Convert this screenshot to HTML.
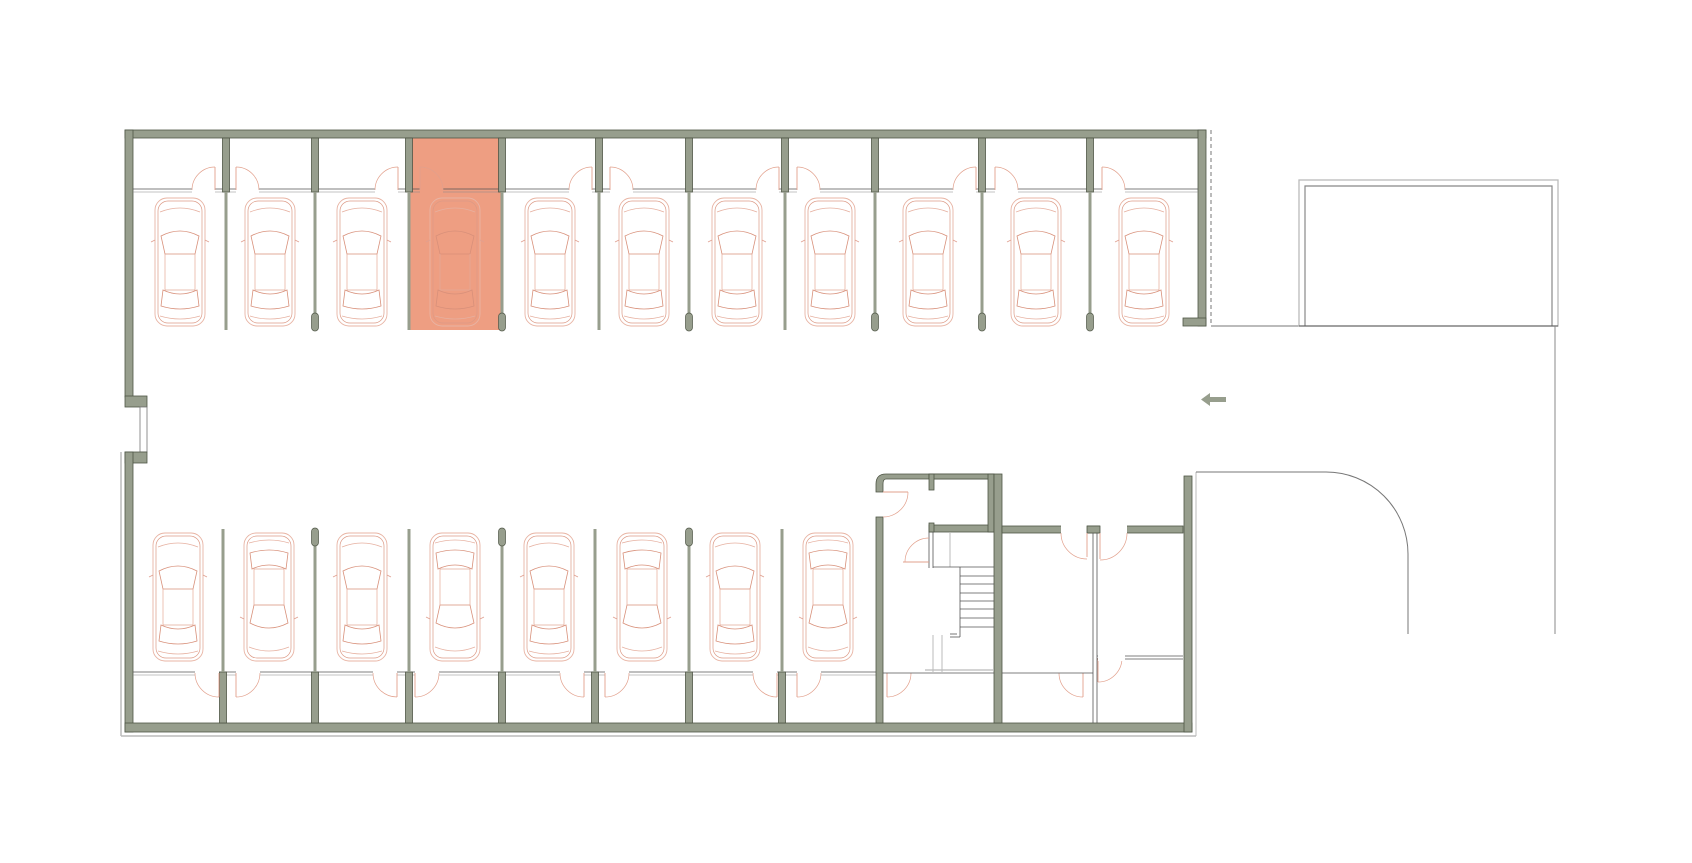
<!DOCTYPE html>
<html><head><meta charset="utf-8"><style>
html,body{margin:0;padding:0;background:#fff;width:1692px;height:863px;overflow:hidden}
svg{display:block}
</style></head><body>
<svg id="s" width="1692" height="863" viewBox="0 0 1692 863" xmlns="http://www.w3.org/2000/svg">
<defs>
<g id="car">
 <rect x="-25" y="-64" width="50" height="128" rx="12" fill="none" stroke="#e8b4a4" stroke-width="0.9"/>
 <rect x="-22" y="-61" width="44" height="122" rx="10" fill="none" stroke="#dc9a86" stroke-width="0.7"/>
 <path d="M-19,-26 Q0,-36 19,-26 L15,-8 L-15,-8 Z" fill="none" stroke="#d8907a" stroke-width="0.8"/>
 <path d="M-15,-8 L-15,28 L15,28 L15,-8" fill="none" stroke="#e4aa98" stroke-width="0.7"/>
 <path d="M-17,28 Q0,36 17,28 L19,44 Q0,50 -19,44 Z" fill="none" stroke="#d8907a" stroke-width="0.8"/>
 <path d="M-25,-22 l-4,2 M25,-22 l4,2" stroke="#e0a090" stroke-width="0.8"/>
 <path d="M-20,-50 Q0,-58 20,-50 M-20,54 Q0,60 20,54" fill="none" stroke="#e6b0a0" stroke-width="0.7"/>
</g>
</defs>
<g id="g"></g>
</svg>
<script>
var W='#979e8d',D='#4f5646',R='#e2a08c';
var h='';
function r(x,y,w,hh,f,s){h+='<rect x="'+x+'" y="'+y+'" width="'+w+'" height="'+hh+'" fill="'+(f||W)+'" stroke="'+(s||D)+'" stroke-width="0.8"/>';}
function l(x1,y1,x2,y2,c,w,da){h+='<line x1="'+x1+'" y1="'+y1+'" x2="'+x2+'" y2="'+y2+'" stroke="'+(c||'#555')+'" stroke-width="'+(w||1)+'"'+(da?' stroke-dasharray="'+da+'"':'')+'/>';}
function p(d,c,w,f){h+='<path d="'+d+'" fill="'+(f||'none')+'" stroke="'+(c||'#555')+'" stroke-width="'+(w||1)+'"/>';}
r(410,138,92,192,'#ee9e82','none');
r(125,130,1081,8);
r(1198,130,8,196);
r(1183,318,23,8);
r(125,130,8,267);
r(125,396,22,11);
r(140,407,7,45,'#fff','#777');
r(125,452,22,11);
r(125,452,8,280);
r(125,723,1067,9);
r(1184,476,8,256);
l(121,452,121,736,'#aaa',1.2);l(121,736,1196,736,'#bbb',1.5);l(1196,472,1196,736,'#bbb',1);
l(1211,130,1211,326,'#777',1,'4,3');
var td=[226,315,409,502,599,689,785,875,982,1090];
var pills=[315,502,689,875,982,1090];
l(133,189,1198,189,'#555',0.8);l(133,192,1198,192,'#888',0.6);
td.forEach(function(x){r(x-3.5,138,7,54);l(x,192,x,330,W,3);
 if(pills.indexOf(x)>=0){h+='<rect x="'+(x-3.5)+'" y="313" width="7" height="18" rx="3.5" fill="'+W+'" stroke="'+D+'" stroke-width="0.7"/>';}});
var tdoor=[[215,-1],[236,1],[398,-1],[420,1],[592,-1],[610,1],[779,-1],[797,1],[976,-1],[995,1],[1102,1]];
tdoor.forEach(function(d){var x=d[0],s=d[1],e=x+s*23;var gf=(x>410&&x<502)?'#ee9e82':'#fff';
 h+='<rect x="'+Math.min(x,e)+'" y="188" width="23" height="5" fill="'+gf+'"/>';
 l(x,190,x,167,R,0.9);p('M'+x+',167 A23,23 0 0 '+(s>0?1:0)+' '+e+',190',R,0.7);});
[180,270,362,455,550,644,737,830,928,1036,1144].forEach(function(c){h+='<use href="#car" x="'+c+'" y="262"/>';});
var bd=[223,315,409,502,595,689,782];
var bp=[315,502,689];
l(133,672,877,672,'#555',0.8);l(133,675,877,675,'#888',0.6);
bd.forEach(function(x){r(x-3.5,672,7,51);l(x,529,x,672,W,3);
 if(bp.indexOf(x)>=0){h+='<rect x="'+(x-3.5)+'" y="528" width="7" height="18" rx="3.5" fill="'+W+'" stroke="'+D+'" stroke-width="0.7"/>';}});
var bdoor=[[219,-1,673],[236,1,673],[397,-1,673],[415,1,673],[584,-1,673],[605,1,673],[777,-1,673],[797,1,673],[887,1,673],[1083,-1,673],[1098,1,658]];
bdoor.forEach(function(d){var x=d[0],s=d[1],y=d[2],e=x+s*24;
 h+='<rect x="'+Math.min(x,e)+'" y="'+(y-2)+'" width="24" height="5" fill="#fff"/>';
 l(x,y,x,y+24,R,0.9);p('M'+e+','+y+' A24,24 0 0 '+(s>0?1:0)+' '+x+','+(y+24),R,0.7);});
[178,269,362,455,549,642,735,828].forEach(function(c,i){h+='<use href="#car" x="'+c+'" y="597"'+(i%2?' transform="rotate(180 '+c+' 597)"':'')+'/>';});
p('M876,492 L876,484 Q876,474 886,474 L994,474 L994,479 L886,479 Q883,479 883,484 L883,492 Z',D,0.8,W);
r(876,517,7,206);
r(929,474,65,5);r(929,474,5,16);r(929,525,65,7);r(929,523,5,9);
r(988,474,6,58);
r(994,474,8,249);
l(883,492,908,492,R,0.9);p('M908,492 A25,25 0 0 1 883,517',R,0.7);
l(883,673,994,673,'#555',0.8);l(1002,673,1093,673,'#555',0.8);
r(1002,526,181,7);
h+='<rect x="1061" y="524" width="26" height="11" fill="#fff"/><rect x="1100" y="524" width="27" height="11" fill="#fff"/>';
r(1087,526,13,7);
l(1087,533,1087,557,R,0.9);p('M1061,533 A26,26 0 0 0 1087,559',R,0.7);
l(1100,533,1100,559,R,0.9);p('M1127,533 A27,27 0 0 1 1100,560',R,0.7);
l(1093,533,1093,723,'#555',0.8);l(1097,533,1097,723,'#555',0.8);
l(1097,656,1183,656,'#555',0.8);l(1097,659,1183,659,'#555',0.8);
h+='<rect x="1098" y="654" width="27" height="7" fill="#fff"/>';
l(929,532,929,568,'#555',0.8);l(933,532,933,568,'#555',0.8);l(950,533,950,567,'#bbb',1);
l(933,567,994,567,'#555',0.8);
[576,584,593,601,609,618,627].forEach(function(y){l(960,y,994,y,'#555',0.8);});
l(960,567,960,637,'#555',0.8);l(950,637,960,637,'#555',0.8);l(950,634,957,634,'#555',0.8);
l(903,562,929,562,R,0.9);p('M929,538 A24,24 0 0 0 905,562',R,0.7);
l(933,635,933,672,'#bbb',1);l(942,635,942,672,'#bbb',1);l(925,670,994,670,'#bbb',1.2);
p('M1211,326 L1299,326','#777',1);
h+='<rect x="1299" y="180" width="259" height="146" fill="none" stroke="#bbb" stroke-width="1.3"/>';
h+='<path d="M1305,326 L1305,186 L1552,186 L1552,326" fill="none" stroke="#888" stroke-width="1.2"/>';
l(1299,326,1558,326,'#555',1);
l(1555,326,1555,634,'#888',1);
p('M1196,472 L1326,472 A82,82 0 0 1 1408,554 L1408,634','#777',1);
h+='<path d="M1226,397 L1210,397 L1210,393 L1201,399.5 L1210,406 L1210,402 L1226,402 Z" fill="'+W+'"/>';
document.getElementById('g').innerHTML=h;
</script>
</body></html>
